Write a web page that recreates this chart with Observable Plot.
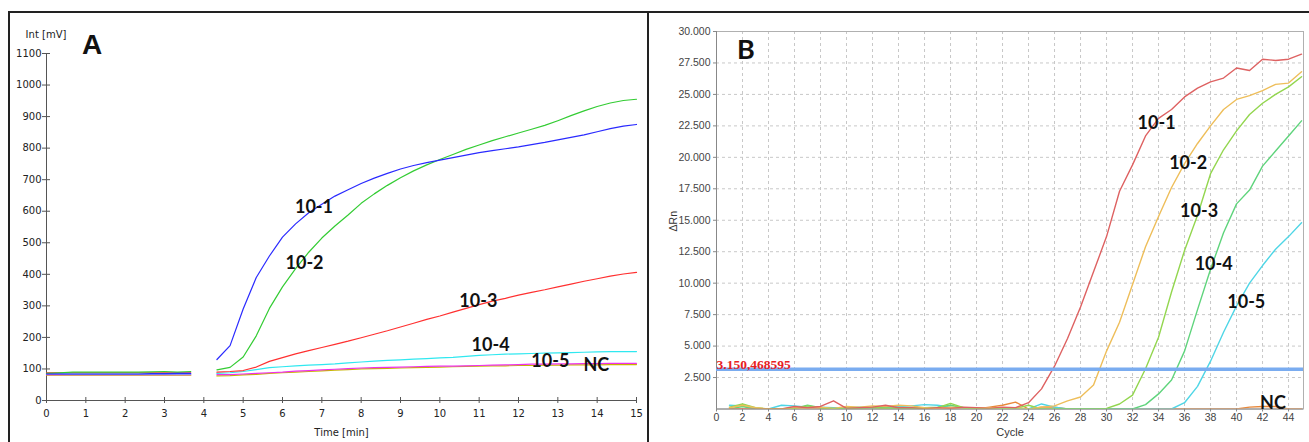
<!DOCTYPE html>
<html><head><meta charset="utf-8">
<script src="https://cdn.jsdelivr.net/npm/d3@7"></script>
<script src="https://cdn.jsdelivr.net/npm/@observablehq/plot@0.6"></script>
<style>
body{margin:0;background:#fff;}
#wrap{position:relative;width:1309px;height:442px;overflow:hidden;background:#fff;}
#a,#b{position:absolute;top:0;}
#a{left:0;} #b{left:648px;}
.bl{position:absolute;background:#222;}
</style></head><body>
<div id="wrap"><div id="a"></div><div id="b"></div>
<div class="bl" style="left:8px;top:11px;width:1301px;height:2px"></div>
<div class="bl" style="left:8px;top:11px;width:2px;height:431px"></div>
<div class="bl" style="left:647px;top:11px;width:2px;height:431px"></div>
</div>
<script>
// ---------- Panel A data ----------
const aSeries = ["NC", "10-5", "10-4", "10-3", "10-2", "10-1"];
const aColors = ["#c8b400", "#ee30ee", "#30e8f0", "#ff3030", "#33cc33", "#2a2aff"];
const aYTicks = [0,100,200,300,400,500,600,700,800,900,1000,1100];
const aXTicks = [0,1,2,3,4,5,6,7,8,9,10,11,12,13,14,15];
const aTimesPre = [0,0.333,0.667,1,1.333,1.667,2,2.333,2.667,3,3.333,3.667];
const aTimesPost = [4.333,4.667,5,5.333,5.667,6,6.333,6.667,7,7.333,7.667,8,8.333,8.667,9,9.333,9.667,10,10.333,10.667,11,11.333,11.667,12,12.333,12.667,13,13.333,13.667,14,14.333,14.667,15];
const a1Pre = [84,84,84,84,84,84,84,84,85,85,86,86];
const a1Post = [130,174,290,390,458,518,560,595,622,648,668,688,705,720,734,745,754,762,770,778,786,792,798,804,811,818,826,834,842,852,862,870,875];
const a2Pre = [86,88,90,90,90,90,90,90,91,92,90,92];
const a2Post = [97,105,138,205,292,360,418,470,515,553,588,625,655,682,706,728,747,764,780,796,810,824,836,848,860,872,887,903,918,932,943,951,955];
const a3Pre = [88,88,88,88,88,88,88,88,88,88,88,88];
const a3Post = [90,92,95,106,124,136,148,158,168,178,188,199,210,221,233,245,257,268,280,292,304,315,324,334,343,351,360,369,378,386,394,401,406];
const a4Pre = [85,85,84,84,84,84,84,84,84,84,84,84];
const a4Post = [86,88,92,98,104,107,110,112,114,116,119,122,125,127,129,131,133,135,137,140,143,145,147,148,149,150,151,152,153,154,155,155,155];
const a5Pre = [82,82,82,82,82,82,82,82,82,82,82,82];
const a5Post = [82,82,84,86,88,90,93,95,97,99,101,103,104,105,106,107,108,109,109,110,111,112,113,114,115,115,116,116,117,117,118,118,118];
const aNCPre = [80,80,80,80,80,80,80,80,80,80,80,80];
const aNCPost = [78,79,81,83,86,88,90,92,94,96,98,100,101,102,103,104,105,106,107,108,109,110,110,111,111,112,112,113,113,113,114,114,114];
const aLabels = ["10-1","10-2","10-3","10-4","10-5","NC"];
const aLabelT = [6.80, 6.56, 10.98, 11.29, 12.81, 13.98];
const aLabelV = [613, 435, 315, 174, 125, 111];

// ---------- Panel B data ----------
const bSeries = ["NC", "10-5", "10-4", "10-3", "10-2", "10-1"];
const bColors = ["#e8883a", "#4fd6e6", "#5fd47c", "#93d64f", "#eebe5a", "#de6262"];
const bCycles = Array.from({length: 45}, (_, i) => i + 1);
const bYTicks = [2500,5000,7500,10000,12500,15000,17500,20000,22500,25000,27500,30000];
const bXTicks = [0,2,4,6,8,10,12,14,16,18,20,22,24,26,28,30,32,34,36,38,40,42,44];
const b1 = [0,0,0,0,0,200,100,200,650,50,100,150,300,100,100,0,100,50,150,100,50,150,100,500,1600,3400,5600,8100,10900,13700,17300,19400,21700,23100,23800,24800,25500,26000,26300,27100,26900,27800,27700,27800,28200];
const b2 = [100,300,100,0,0,100,100,150,50,200,150,250,200,300,250,100,50,150,100,100,100,100,100,0,150,250,650,950,1900,4600,6900,9900,12900,15300,17600,19500,21100,22500,23800,24600,24900,25300,25800,25900,26800];
const b3 = [150,400,100,0,0,50,250,100,0,100,100,150,50,100,100,50,100,450,100,50,0,0,50,300,0,0,0,0,0,50,400,1100,3200,5700,9300,12600,15400,18700,20600,22100,23400,24300,25000,25600,26400];
const b4 = [0,200,0,0,0,50,300,100,50,0,50,100,100,50,50,100,150,300,100,0,0,0,0,0,0,0,0,0,0,0,0,0,350,1200,2300,4600,7900,11100,14000,16300,17400,19300,20500,21700,22900];
const b5 = [300,250,0,0,300,250,150,150,100,100,150,100,150,200,250,350,300,150,100,50,0,0,0,0,400,150,0,0,0,0,0,0,0,0,0,500,1800,3800,6100,8200,10000,11400,12700,13700,14800];
const bNC = [0,0,0,0,0,0,0,0,0,0,0,0,0,0,0,0,0,0,0,0,150,300,550,0,150,150,0,0,0,0,0,0,0,0,0,0,0,0,0,0,150,200,200,0,0];
const threshold = 3150.468595;
const thresholdLabel = "3.150,468595";
const bLabels = ["10-1","10-2","10-3","10-4","10-5","NC"];
const bLabelC = [33.85, 36.28, 37.12, 38.24, 40.75, 42.8];
const bLabelV = [22682, 19528, 15746, 11480, 8485, 461];

// ---------- build rows ----------
function rowsA(name, pre, post) {
  return [
    ...pre.map((v, i) => ({t: aTimesPre[i], v, s: name, seg: name + "-pre"})),
    ...post.map((v, i) => ({t: aTimesPost[i], v, s: name, seg: name + "-post"}))
  ];
}
const aRows = [
  ...rowsA("NC", aNCPre, aNCPost),
  ...rowsA("10-5", a5Pre, a5Post),
  ...rowsA("10-4", a4Pre, a4Post),
  ...rowsA("10-3", a3Pre, a3Post),
  ...rowsA("10-2", a2Pre, a2Post),
  ...rowsA("10-1", a1Pre, a1Post)
];
function rowsB(name, vals) { return vals.map((v, i) => ({c: bCycles[i], v, s: name})); }
const bRows = [
  ...rowsB("NC", bNC), ...rowsB("10-5", b5), ...rowsB("10-4", b4),
  ...rowsB("10-3", b3), ...rowsB("10-2", b2), ...rowsB("10-1", b1)
];

const plotA = Plot.plot({
  width: 648, height: 442, marginLeft: 46, marginRight: 12, marginTop: 53, marginBottom: 42,
  x: {domain: [0, 15], axis: null},
  y: {domain: [0, 1100], axis: null},
  color: {domain: aSeries, range: aColors},
  style: {fontFamily: "DejaVu Sans", fontSize: "10px", background: "transparent", color: "#222"},
  marks: [
    Plot.ruleX([0], {stroke: "#555"}),
    Plot.ruleY([0], {stroke: "#555"}),
    Plot.axisY({ticks: aYTicks, tickSize: 8, dx: 4, tickFormat: () => "", stroke: "#555", label: null}),
    Plot.axisY({ticks: aYTicks, tickSize: 0, tickPadding: 5, tickFormat: d => String(d), label: null, fill: "#222"}),
    Plot.axisX({ticks: aXTicks, tickSize: 6, dy: -3, tickFormat: () => "", stroke: "#555", label: null}),
    Plot.axisX({ticks: aXTicks, tickSize: 0, tickPadding: 9, tickFormat: d => String(d), label: null, fill: "#222"}),
    Plot.line(aRows, {x: "t", y: "v", z: "seg", stroke: "s", strokeWidth: 1.2}),
    Plot.text(aLabels, {x: (d, i) => aLabelT[i], y: (d, i) => aLabelV[i], text: d => d, fontFamily: "Lato", fontWeight: "bold", fontSize: 18, fill: "#111"}),
    Plot.text(["A"], {frameAnchor: "top-left", textAnchor: "middle", lineAnchor: "middle", dx: 45.7, dy: -8, fontFamily: "Liberation Sans", fontWeight: "bold", fontSize: 28, fill: "#111"}),
    Plot.text(["Int [mV]"], {frameAnchor: "top-left", textAnchor: "middle", lineAnchor: "middle", dx: -0.5, dy: -18.5, fontSize: 10, fill: "#222"}),
    Plot.text(["Time [min]"], {frameAnchor: "bottom", textAnchor: "middle", lineAnchor: "middle", dy: 32, fontSize: 10, fill: "#222"})
  ]
});
document.getElementById("a").appendChild(plotA);

const fmtB = d => d3.format(",.0f")(d).replace(/,/g, ".");
const plotB = Plot.plot({
  width: 661, height: 442, marginLeft: 68, marginRight: 6, marginTop: 31, marginBottom: 33.5,
  x: {domain: [0, 45.15], axis: null},
  y: {domain: [0, 30000], axis: null},
  color: {domain: bSeries, range: bColors},
  style: {fontFamily: "Liberation Sans", fontSize: "10.5px", background: "transparent", color: "#333"},
  marks: [
    Plot.gridX(bXTicks, {stroke: "#c8c8c8", strokeOpacity: 1, strokeDasharray: "3,3"}),
    Plot.gridY(bYTicks, {stroke: "#c8c8c8", strokeOpacity: 1, strokeDasharray: "3,3"}),
    Plot.frame({stroke: "#b0b0b0"}),
    Plot.ruleX([0], {stroke: "#888"}),
    Plot.ruleY([0], {stroke: "#888"}),
    Plot.axisY({ticks: bYTicks, tickSize: 3, tickPadding: 3, tickFormat: fmtB, stroke: "#888", fill: "#444", label: null}),
    Plot.axisX({ticks: bXTicks, tickSize: 3, tickPadding: 2, stroke: "#888", fill: "#444", label: null}),
    Plot.line(bRows, {x: "c", y: "v", z: "s", stroke: "s", strokeWidth: 1.4, clip: true}),
    Plot.ruleY([threshold], {stroke: "#7aacf0", strokeWidth: 3.5}),
    Plot.text([thresholdLabel], {x: () => 0, y: () => threshold, textAnchor: "start", lineAnchor: "middle", dy: -5, fontFamily: "Liberation Serif", fontWeight: "bold", fontSize: 13.5, fill: "#e8201e"}),
    Plot.text(bLabels, {x: (d, i) => bLabelC[i], y: (d, i) => bLabelV[i], text: d => d, fontFamily: "Lato", fontWeight: "bold", fontSize: 18, fill: "#111"}),
    Plot.text(["B"], {frameAnchor: "top-left", textAnchor: "middle", lineAnchor: "middle", dx: 29.5, dy: 19, fontFamily: "Lato", fontWeight: "bold", fontSize: 27, fill: "#111"}),
    Plot.text(["ΔRn"], {frameAnchor: "left", textAnchor: "middle", lineAnchor: "middle", dx: -43, dy: 1, rotate: -90, fontSize: 10.5, fill: "#333"}),
    Plot.text(["Cycle"], {frameAnchor: "bottom", textAnchor: "middle", lineAnchor: "middle", dy: 23.5, fontSize: 11, fill: "#333"})
  ]
});
document.getElementById("b").appendChild(plotB);
</script>
</body></html>
